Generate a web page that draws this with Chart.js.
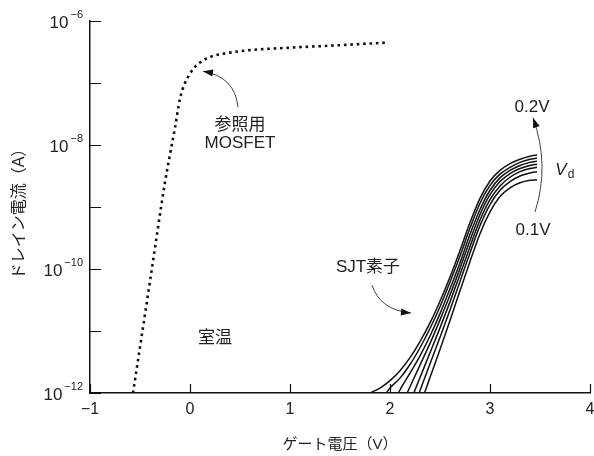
<!DOCTYPE html>
<html><head><meta charset="utf-8">
<script src="https://cdn.jsdelivr.net/npm/chart.js@4.4.0/dist/chart.umd.min.js"></script>
<style>html,body{margin:0;padding:0;background:#fff}#wrap{width:594px;height:456px}</style>
</head><body><div id="wrap"><canvas id="c" width="594" height="456"></canvas></div>
<script>
// ---- data (gate voltage in V, drain current as log10(A)) ----
const xTickValues = [-1, 0, 1, 2, 3, 4];
const xTickLabels = ['−1', '0', '1', '2', '3', '4'];
const yLabelExponents = [-12, -10, -8, -6];
const yMinorExponents = [-11, -9, -7];

const mosfetGate = [-0.57, -0.40, -0.25, -0.20, -0.15, -0.10, -0.05, 0.0, 0.05, 0.10, 0.20, 0.40, 0.60, 1.00, 1.50, 1.95];
const mosfetLogI = [-12.0, -10.2, -8.6, -8.15, -7.72, -7.25, -7.0, -6.85, -6.74, -6.67, -6.58, -6.51, -6.47, -6.43, -6.39, -6.35];

const sjtGate = [1.8, 1.9, 2.0, 2.1, 2.2, 2.3, 2.4, 2.5, 2.6, 2.7, 2.8, 2.9, 3.0, 3.1, 3.2, 3.3, 3.4, 3.47];
const sjtLogI_1 = [-12.0, -11.92, -11.8, -11.64, -11.43, -11.17, -10.87, -10.52, -10.13, -9.70, -9.25, -8.86, -8.58, -8.41, -8.30, -8.23, -8.18, -8.16];
const sjtLogI_2 = [-12.4, -12.15, -11.92, -11.76, -11.54, -11.27, -10.96, -10.61, -10.21, -9.79, -9.34, -8.94, -8.65, -8.47, -8.36, -8.28, -8.23, -8.21];
const sjtLogI_3 = [-13.0, -12.7, -12.3, -11.95, -11.68, -11.4, -11.08, -10.72, -10.32, -9.90, -9.44, -9.04, -8.73, -8.53, -8.41, -8.33, -8.28, -8.26];
const sjtLogI_4 = [-13.3, -13.0, -12.6, -12.25, -11.9, -11.55, -11.2, -10.82, -10.42, -9.99, -9.54, -9.12, -8.80, -8.59, -8.46, -8.38, -8.33, -8.31];
const sjtLogI_5 = [-13.5, -13.2, -12.9, -12.5, -12.15, -11.75, -11.35, -10.95, -10.53, -10.09, -9.64, -9.21, -8.88, -8.66, -8.52, -8.43, -8.38, -8.36];
const sjtLogI_6 = [-13.7, -13.4, -13.1, -12.75, -12.38, -11.96, -11.53, -11.1, -10.66, -10.20, -9.74, -9.30, -8.96, -8.73, -8.59, -8.50, -8.45, -8.43];
const sjtLogI_7 = [-14.0, -13.6, -13.3, -12.95, -12.6, -12.2, -11.75, -11.3, -10.83, -10.35, -9.88, -9.43, -9.08, -8.83, -8.69, -8.61, -8.57, -8.56];
const sjtSeries = [sjtLogI_1, sjtLogI_2, sjtLogI_3, sjtLogI_4, sjtLogI_5, sjtLogI_6, sjtLogI_7];

const textNotes = [
  { text: '参照用', x: 0.50, e: -7.68 },
  { text: 'MOSFET', x: 0.50, e: -7.98 },
  { text: '0.2V', x: 3.42, e: -7.40 },
  { text: '0.1V', x: 3.43, e: -9.37 },
  { text: 'SJT素子', x: 1.78, e: -9.98 },
  { text: '室温', x: 0.25, e: -11.11 }
];
const arrowNotes = [
  { from: [0.48, -7.39], ctrl: [0.45, -6.90], to: [0.13, -6.81] },
  { from: [3.45, -9.08], ctrl: [3.60, -8.32], to: [3.43, -7.56] },
  { from: [1.82, -10.26], ctrl: [1.90, -10.66], to: [2.21, -10.71] }
];

const toPts = (xs, es) => xs.map((x, i) => ({ x: x, y: Math.pow(10, es[i]) }));

const datasets = [{
  data: toPts(mosfetGate, mosfetLogI),
  borderColor: '#111', borderWidth: 2.6, borderDash: [2.6, 3.8],
  pointRadius: 0, cubicInterpolationMode: 'monotone', fill: false
}].concat(sjtSeries.map(s => ({
  data: toPts(sjtGate, s),
  borderColor: '#111', borderWidth: 1.5,
  pointRadius: 0, cubicInterpolationMode: 'monotone', fill: false
})));

const FONT = '"Liberation Sans", "Noto Sans CJK JP", Arial, sans-serif';
const TXT = '#222';

const decorPlugin = {
  id: 'decor',
  afterDatasetsDraw(chart) {
    const ctx = chart.ctx, xs = chart.scales.x, ys = chart.scales.y;
    const ca = chart.chartArea;
    const P = (x, e) => [xs.getPixelForValue(x), ys.getPixelForValue(Math.pow(10, e))];
    ctx.save();
    // tick marks (inside)
    ctx.strokeStyle = '#111'; ctx.lineWidth = 1.2;
    ctx.beginPath();
    yLabelExponents.concat(yMinorExponents).forEach(e => {
      const y = Math.round(ys.getPixelForValue(Math.pow(10, e))) + 0.5;
      ctx.moveTo(ca.left, y); ctx.lineTo(ca.left + 11, y);
    });
    xTickValues.forEach(v => {
      const x = Math.round(xs.getPixelForValue(v)) + 0.5;
      ctx.moveTo(x, ca.bottom); ctx.lineTo(x, ca.bottom - 9);
    });
    ctx.stroke();
    // x tick labels
    ctx.fillStyle = TXT;
    ctx.font = '16px ' + FONT; ctx.textAlign = 'center'; ctx.textBaseline = 'middle';
    xTickValues.forEach((v, i) => ctx.fillText(xTickLabels[i], xs.getPixelForValue(v), ca.bottom + 17));
    // y tick labels 10^e
    yLabelExponents.forEach(e => {
      const y = ys.getPixelForValue(Math.pow(10, e));
      const sup = '−' + Math.abs(e);
      ctx.font = '11px ' + FONT; ctx.textAlign = 'right';
      const sw = ctx.measureText(sup).width;
      ctx.fillText(sup, ca.left - 7, y - 6);
      ctx.font = '17px ' + FONT;
      ctx.fillText('10', ca.left - 9 - sw, y + 2);
    });
    // axis titles
    ctx.font = '15px ' + FONT; ctx.textAlign = 'center';
    ctx.fillText('ゲート電圧（V）', (ca.left + ca.right) / 2, 445);
    ctx.font = '16px ' + FONT;
    ctx.save(); ctx.translate(20, 210); ctx.rotate(-Math.PI / 2);
    ctx.fillText('ドレイン電流（A）', 0, 0); ctx.restore();
    // annotation texts
    ctx.font = '17px ' + FONT;
    textNotes.forEach(n => { const p = P(n.x, n.e); ctx.fillText(n.text, p[0], p[1]); });
    // V_d
    const vp = P(3.71, -8.40);
    ctx.font = 'italic 17px ' + FONT; ctx.textAlign = 'center';
    ctx.fillText('V', vp[0], vp[1]);
    ctx.font = '12px ' + FONT;
    ctx.fillText('d', vp[0] + 10, vp[1] + 5);
    // arrows
    arrowNotes.forEach(a => {
      const f = P(a.from[0], a.from[1]), c = P(a.ctrl[0], a.ctrl[1]), t = P(a.to[0], a.to[1]);
      ctx.strokeStyle = '#444'; ctx.lineWidth = 1;
      ctx.beginPath(); ctx.moveTo(f[0], f[1]); ctx.quadraticCurveTo(c[0], c[1], t[0], t[1]); ctx.stroke();
      const ang = Math.atan2(t[1] - c[1], t[0] - c[0]);
      const L = 10, W = 3.5;
      ctx.fillStyle = '#111';
      ctx.beginPath();
      ctx.moveTo(t[0], t[1]);
      ctx.lineTo(t[0] - L * Math.cos(ang) + W * Math.sin(ang), t[1] - L * Math.sin(ang) - W * Math.cos(ang));
      ctx.lineTo(t[0] - L * Math.cos(ang) - W * Math.sin(ang), t[1] - L * Math.sin(ang) + W * Math.cos(ang));
      ctx.closePath(); ctx.fill();
    });
    ctx.restore();
  }
};

new Chart(document.getElementById('c'), {
  type: 'line',
  data: { datasets: datasets },
  options: {
    responsive: false, animation: false, devicePixelRatio: 1,
    layout: { padding: { left: 90, right: 4, top: 21, bottom: 63 } },
    plugins: { legend: { display: false }, tooltip: { enabled: false } },
    scales: {
      x: { type: 'linear', min: -1, max: 4,
        grid: { display: false, drawTicks: false },
        border: { display: true, color: '#111', width: 1.5 },
        ticks: { display: false } },
      y: { type: 'logarithmic', min: 1e-12, max: 1e-6,
        grid: { display: false, drawTicks: false },
        border: { display: true, color: '#111', width: 1.5 },
        ticks: { display: false } }
    }
  },
  plugins: [decorPlugin]
});
</script></body></html>
